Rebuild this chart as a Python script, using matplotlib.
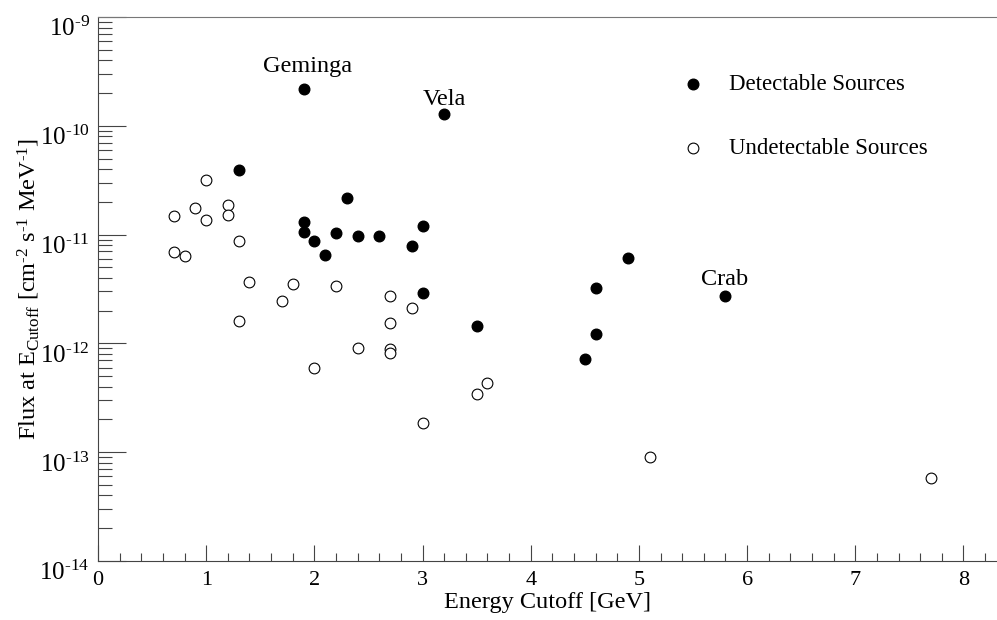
import numpy as np
import matplotlib
matplotlib.use('Agg')
import matplotlib.pyplot as plt
import matplotlib.transforms as mtransforms
from matplotlib.ticker import LogLocator, MultipleLocator

plt.rcParams['font.family'] = ['Liberation Serif', 'DejaVu Serif']
plt.rcParams['mathtext.fontset'] = 'custom'
plt.rcParams['mathtext.rm'] = 'Liberation Serif'
plt.rcParams['mathtext.it'] = 'Liberation Serif:italic'

# detectable sources (filled)
det_e = [1.9, 3.2, 1.3, 2.3, 1.9, 1.9, 2.0, 2.1, 2.2, 2.4, 2.6, 2.9, 3.0, 3.0,
         3.5, 4.5, 4.6, 4.6, 4.9, 5.8]
det_f = [2.18e-10, 1.28e-10, 3.9e-11, 2.17e-11, 1.31e-11, 1.06e-11, 8.8e-12,
         6.45e-12, 1.04e-11, 9.8e-12, 9.7e-12, 7.9e-12, 1.2e-11, 2.9e-12,
         1.44e-12, 7.2e-13, 1.21e-12, 3.2e-12, 6.1e-12, 2.7e-12]

# undetectable sources (open)
und_e = [1.0, 0.9, 1.2, 1.2, 0.7, 1.0, 1.3, 0.7, 0.8, 1.4, 1.8, 2.2, 1.7, 2.7,
         2.9, 1.3, 2.7, 2.4, 2.7, 2.7, 2.0, 3.5, 3.6, 3.0, 5.1, 7.7]
und_f = [3.2e-11, 1.77e-11, 1.86e-11, 1.51e-11, 1.47e-11, 1.36e-11, 8.8e-12,
         6.9e-12, 6.4e-12, 3.7e-12, 3.5e-12, 3.4e-12, 2.45e-12, 2.7e-12,
         2.1e-12, 1.62e-12, 1.55e-12, 9.1e-13, 8.9e-13, 8.1e-13, 5.9e-13,
         3.45e-13, 4.3e-13, 1.85e-13, 9.0e-14, 5.75e-14]

names = ['Geminga', 'Vela', 'Crab']
name_idx = [0, 1, 19]
name_off = [(3, 12), (0, 6.7), (-1, 8)]

decades = [-14, -13, -12, -11, -10, -9]

HY = '\u2010'  # short hyphen instead of the long math minus

fig = plt.figure(figsize=(9.97, 6.2), dpi=100)
ax = fig.add_axes([0.0983, 0.0952, 0.9017, 0.8774])

ax.scatter(und_e, und_f, s=60, facecolors='white', edgecolors='black',
           linewidths=0.8, label='Undetectable Sources', zorder=3)
ax.scatter(det_e, det_f, s=58, color='black', label='Detectable Sources', zorder=3)

for n, i, off in zip(names, name_idx, name_off):
    ax.annotate(n, (det_e[i], det_f[i]), xytext=off, textcoords='offset points',
                ha='center', va='baseline', fontsize=17.5)

ax.set_yscale('log')
ax.set_xlim(0, 8.31)
ax.set_ylim(1e-14, 1e-9)

ax.xaxis.set_major_locator(MultipleLocator(1))
ax.xaxis.set_minor_locator(MultipleLocator(0.2))
ax.set_yticks([10.0 ** d for d in decades])
ax.set_yticklabels(['$10^{' + HY + '%d}$' % abs(d) for d in decades])
ax.yaxis.set_minor_locator(LogLocator(base=10, subs=np.arange(2, 10), numticks=20))

ax.tick_params(axis='x', which='major', direction='in', length=11.5, width=0.8,
               color='#444444', labelsize=16, pad=7.5)
ax.tick_params(axis='x', which='minor', direction='in', length=5.8, width=0.8,
               color='#444444')
ax.tick_params(axis='y', which='major', direction='in', length=20, width=0.8,
               color='#444444', labelsize=18, pad=6)
ax.tick_params(axis='y', which='minor', direction='in', length=10, width=0.8,
               color='#444444', labelleft=False)

# ytick labels sit a bit below their ticks in the original
shift = mtransforms.ScaledTranslation(0, -7 / 72, fig.dpi_scale_trans)
for lab in ax.get_yticklabels():
    lab.set_transform(lab.get_transform() + shift)

ax.spines['right'].set_visible(False)
ax.spines['top'].set_color('#777777')
ax.spines['left'].set_color('#444444')
ax.spines['bottom'].set_color('#444444')

ax.set_xlabel('Energy Cutoff [GeV]', fontsize=17.5, labelpad=1)
ylab = ('Flux at E$_{\\mathrm{Cutoff}}$ [cm$^{' + HY + '2}$ s$^{' + HY + '1}$ MeV$^{'
        + HY + '1}$]')
ax.set_ylabel(ylab, fontsize=17.5, labelpad=-2)

h, l = ax.get_legend_handles_labels()
leg = ax.legend(h[::-1], l[::-1], loc='upper left', bbox_to_anchor=(0.6267, 0.9335),
                frameon=False, fontsize=16.5, handlelength=1.0, handletextpad=1.03,
                labelspacing=1.9)

fig.savefig('out.png', dpi=100)
